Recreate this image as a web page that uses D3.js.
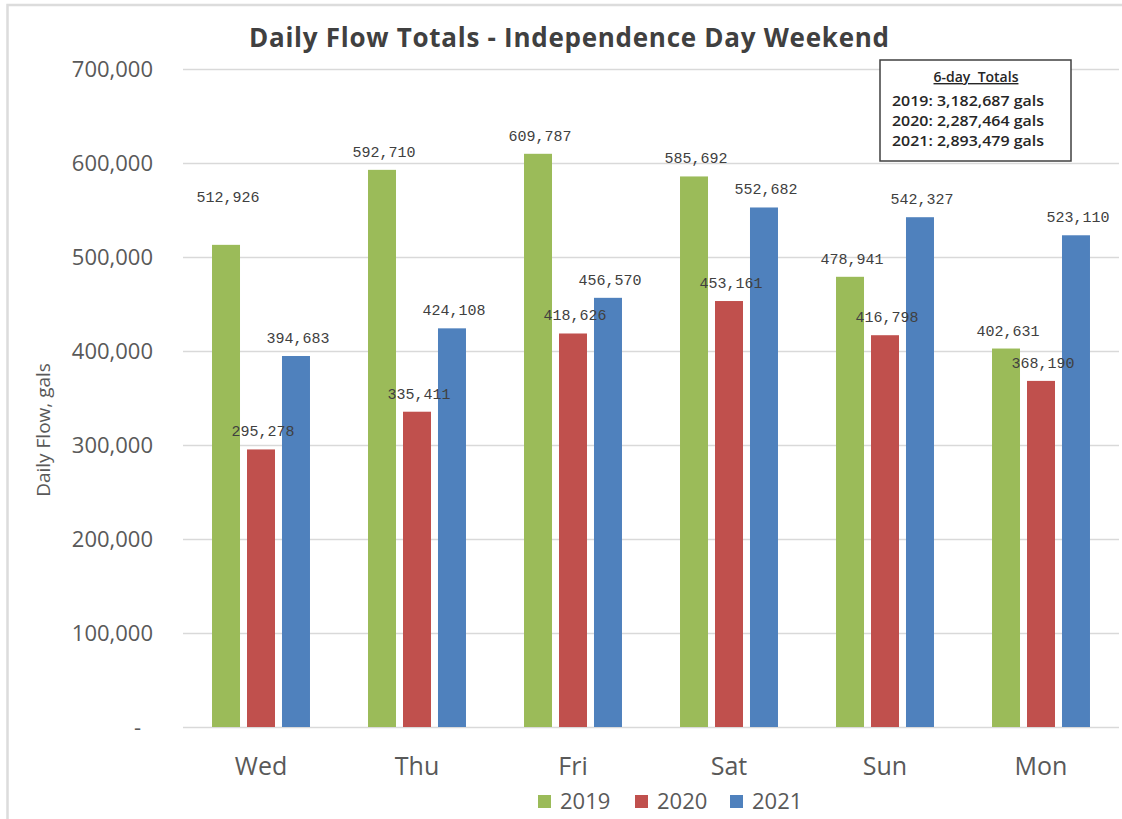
<!DOCTYPE html>
<html><head><meta charset="utf-8">
<script src="https://cdn.jsdelivr.net/npm/d3@7"></script>
<style>
html,body{margin:0;padding:0;background:#fff;}
svg{display:block;}
</style>
</head><body>
<svg id="chart" width="1122" height="819"></svg>
<script>
const days = ["Wed","Thu","Fri","Sat","Sun","Mon"];
const seriesNames = ["2019","2020","2021"];
const values2019 = [512926, 592710, 609787, 585692, 478941, 402631];
const values2020 = [295278, 335411, 418626, 453161, 416798, 368190];
const values2021 = [394683, 424108, 456570, 552682, 542327, 523110];
const seriesColors = ["#9BBB59","#C0504D","#4F81BD"];
const yTicks = [0,100000,200000,300000,400000,500000,600000,700000];
const totalsTitle = "6-day  Totals";
const totalsLines = ["2019: 3,182,687 gals","2020: 2,287,464 gals","2021: 2,893,479 gals"];
const chartTitle = "Daily Flow Totals - Independence Day Weekend";
const yAxisTitle = "Daily Flow, gals";

// label placement nudges (style only, as in the original manual layout)
const labelNudge = {"Wed|2019": -30};

const allSeries = [values2019, values2020, values2021];
const svg = d3.select("#chart");
const font = "'Open Sans', 'Liberation Sans', sans-serif";

svg.append("rect").attr("x",7.5).attr("y",5).attr("width",1200).attr("height",900)
  .attr("fill","none").attr("stroke","#dcdcdc").attr("stroke-width",2.5);

const plot = {left:183, right:1119, top:69, bottom:727};
const x = d3.scaleBand().domain(days).range([plot.left, plot.right]).paddingInner(0.372).paddingOuter(0.186);
const xs = d3.scaleBand().domain(seriesNames).range([0, x.bandwidth()]).paddingInner(0.2).paddingOuter(0);
const y = d3.scaleLinear().domain([0,700000]).range([plot.bottom, plot.top]);

svg.append("g").attr("class","grid")
  .attr("transform",`translate(${plot.left},0)`)
  .call(d3.axisLeft(y).tickValues(yTicks).tickSize(-(plot.right-plot.left)).tickFormat(""))
  .call(g=>g.select(".domain").remove())
  .call(g=>g.selectAll("line").attr("stroke","#d9d9d9").attr("stroke-width",1.3));

const fmt = d3.format(",");
svg.append("g")
  .attr("transform",`translate(153,0)`)
  .call(d3.axisLeft(y).tickValues(yTicks).tickSize(0).tickPadding(0).tickFormat(d=> d===0 ? "-" : fmt(d)))
  .call(g=>g.select(".domain").remove())
  .call(g=>g.selectAll("text")
     .attr("font-family",font).attr("font-size",22).attr("fill","#595959")
     .attr("dx", d=> d===0 ? -12 : 0));

svg.append("g")
  .attr("transform",`translate(0,${plot.bottom})`)
  .call(d3.axisBottom(x).tickSize(0).tickPadding(30))
  .call(g=>g.select(".domain").remove())
  .call(g=>g.selectAll("text").attr("font-family",font).attr("font-size",25).attr("fill","#595959"));

const groups = svg.append("g").selectAll("g").data(days).join("g")
  .attr("transform", d=>`translate(${x(d)},0)`);
const cellData = (d,i)=>seriesNames.map((s,j)=>({day:d, s, j, v: allSeries[j][i]}));
groups.selectAll("rect").data(cellData)
  .join("rect")
  .attr("x", d=>xs(d.s)).attr("width", xs.bandwidth())
  .attr("y", d=>y(d.v)).attr("height", d=>y(0)-y(d.v))
  .attr("fill", d=>seriesColors[d.j]);

groups.selectAll("text.val").data(cellData)
  .join("text").attr("class","val")
  .attr("x", d=>xs(d.s)+xs.bandwidth()/2+2)
  .attr("y", d=>y(d.v)-13+(labelNudge[d.day+"|"+d.s]||0))
  .attr("text-anchor","middle")
  .attr("font-family","'Liberation Mono', 'DejaVu Sans Mono', monospace")
  .attr("font-size",15).attr("fill","#404040")
  .text(d=>fmt(d.v));

svg.append("text").attr("x",569).attr("y",47).attr("text-anchor","middle")
  .attr("font-family",font).attr("font-weight","bold").attr("font-size",26)
  .attr("textLength",640).attr("lengthAdjust","spacing")
  .attr("fill","#404040").text(chartTitle);

svg.append("text").attr("transform","translate(50,430) rotate(-90)")
  .attr("text-anchor","middle").attr("font-family",font).attr("font-size",19)
  .attr("fill","#595959").text(yAxisTitle);

const legendX = [538, 635, 730];
const leg = svg.append("g").selectAll("g").data(seriesNames).join("g")
  .attr("transform",(d,i)=>`translate(${legendX[i]},795)`);
leg.append("rect").attr("width",13).attr("height",13).attr("fill",(d,i)=>seriesColors[i]);
leg.append("text").attr("x",22).attr("y",14).attr("font-family",font).attr("font-size",22)
  .attr("fill","#595959").text(d=>d);

const box = svg.append("g").attr("transform","translate(880,60)");
box.append("rect").attr("width",191).attr("height",101).attr("fill","#fff")
  .attr("stroke","#404040").attr("stroke-width",1.5);
box.append("text").attr("x",96).attr("y",22).attr("text-anchor","middle")
  .attr("font-family",font).attr("font-size",14).attr("font-weight",600).attr("fill","#262626")
  .attr("text-decoration","underline").style("white-space","pre").text(totalsTitle);
box.selectAll("text.line").data(totalsLines).join("text").attr("class","line")
  .attr("x",12).attr("y",(d,i)=>46+i*20)
  .attr("font-family",font).attr("font-size",14).attr("font-weight",600).attr("fill","#262626")
  .attr("textLength",152).attr("lengthAdjust","spacingAndGlyphs")
  .text(d=>d);
</script>
</body></html>
